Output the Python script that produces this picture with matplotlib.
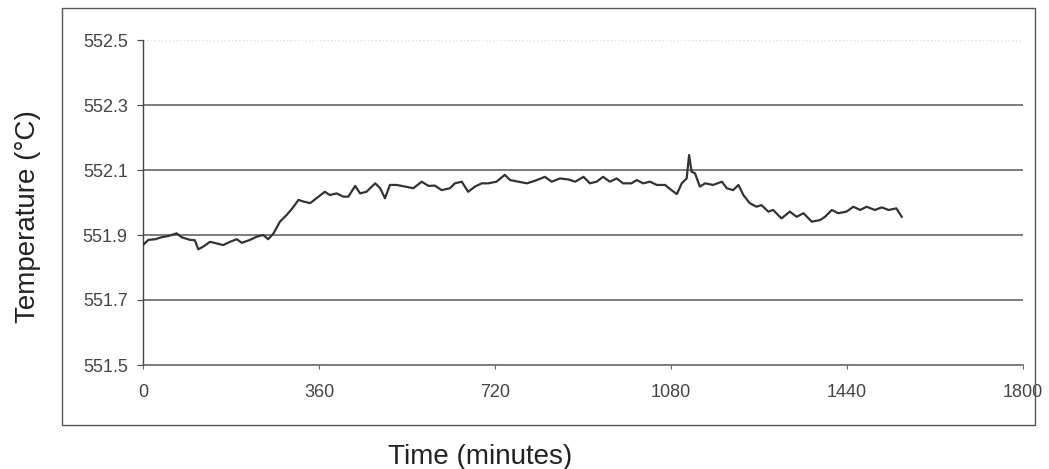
import numpy as np
import matplotlib.pyplot as plt
from matplotlib.patches import Rectangle

plt.rcParams['font.family'] = ['Liberation Sans', 'DejaVu Sans']

# ================================================================
# DONNÉES
# ================================================================
time_min = [0, 11, 25, 38, 52, 69, 79, 96, 106, 113, 123, 137, 151, 164, 178,
            192, 202, 219, 233, 246, 256, 267, 280, 294, 307, 318, 328, 342,
            359, 372, 382, 396, 410, 420, 434, 444, 457, 475, 485, 495, 505,
            519, 536, 553, 570, 584, 597, 611, 628, 638, 652, 665, 679, 693,
            706, 723, 740, 751, 768, 785, 802, 822, 836, 853, 870, 884, 901,
            914, 928, 941, 955, 969, 982, 999, 1010, 1023, 1037, 1051, 1068,
            1081, 1092, 1102, 1112, 1117, 1122, 1129, 1139, 1150, 1166, 1184,
            1194, 1207, 1218, 1228, 1241, 1255, 1265, 1279, 1289, 1306, 1323,
            1337, 1351, 1368, 1385, 1395, 1409, 1422, 1439, 1453, 1467, 1480,
            1497, 1511, 1525, 1541, 1552]

temperature = [551.869, 551.885, 551.887, 551.893, 551.897, 551.905, 551.893,
               551.885, 551.884, 551.856, 551.864, 551.879, 551.874, 551.869,
               551.879, 551.887, 551.876, 551.885, 551.895, 551.900, 551.887,
               551.905, 551.941, 551.962, 551.985, 552.008, 552.003, 551.998,
               552.018, 552.033, 552.023, 552.028, 552.018, 552.018, 552.051,
               552.028, 552.033, 552.059, 552.044, 552.013, 552.054, 552.054,
               552.049, 552.044, 552.064, 552.051, 552.052, 552.038, 552.044,
               552.059, 552.064, 552.033, 552.049, 552.059, 552.059, 552.064,
               552.085, 552.069, 552.064, 552.059, 552.067, 552.079, 552.064,
               552.074, 552.071, 552.064, 552.079, 552.059, 552.064, 552.079,
               552.064, 552.074, 552.059, 552.059, 552.069, 552.059, 552.064,
               552.054, 552.054, 552.038, 552.026, 552.059, 552.074, 552.146,
               552.095, 552.090, 552.049, 552.059, 552.054, 552.064, 552.044,
               552.038, 552.054, 552.023, 551.998, 551.987, 551.992, 551.972,
               551.977, 551.951, 551.972, 551.956, 551.967, 551.941, 551.946,
               551.956, 551.977, 551.967, 551.972, 551.987, 551.977, 551.987,
               551.977, 551.985, 551.977, 551.982, 551.956]

x_ticks = [0, 360, 720, 1080, 1440, 1800]
y_ticks = [551.5, 551.7, 551.9, 552.1, 552.3, 552.5]
y_labels = ["551.5", "551.7", "551.9", "552.1", "552.3", "552.5"]
grid_levels = [551.7, 551.9, 552.1, 552.3]

# ================================================================
# FIGURE
# ================================================================
fig = plt.figure(figsize=(10.49, 4.69), dpi=100)
ax = fig.add_axes([143 / 1049, 1 - 365 / 469, 880 / 1049, 325 / 469])

# cadre extérieur (style Excel)
fig.patches.append(Rectangle((62 / 1049, 1 - 425 / 469), 973 / 1049, 417 / 469,
                             transform=fig.transFigure, fill=False,
                             edgecolor='#555555', lw=1.0))

for lvl in grid_levels:
    ax.axhline(lvl, color='#666666', lw=1.2, zorder=1)
ax.axhline(552.5, color='#dddddd', lw=1.0, ls=':', zorder=1)

ax.plot(time_min, temperature, color='#333333', lw=1.6, zorder=3)

ax.set_xlim(0, 1800)
ax.set_ylim(551.5, 552.5)
ax.set_xticks(x_ticks)
ax.set_yticks(y_ticks)
ax.set_yticklabels(y_labels)

for side in ['top', 'right']:
    ax.spines[side].set_visible(False)
ax.spines['left'].set_color('#444444')
ax.spines['bottom'].set_color('#666666')
ax.spines['left'].set_linewidth(1.0)
ax.spines['bottom'].set_linewidth(1.2)

ax.tick_params(axis='y', direction='out', length=4, pad=7, labelsize=13,
               labelcolor='#444444', color='#444444')
ax.tick_params(axis='x', direction='out', length=3, pad=11, labelsize=13,
               labelcolor='#444444', color='#666666')

fig.text(28 / 1049, 1 - 217 / 469, "Temperature (°C)", rotation=90,
         ha='center', va='center', fontsize=20, color='#222222')
fig.text(480 / 1049, 1 - 457 / 469, "Time (minutes)",
         ha='center', va='center', fontsize=20, color='#222222')

fig.savefig("out.png", dpi=100)
